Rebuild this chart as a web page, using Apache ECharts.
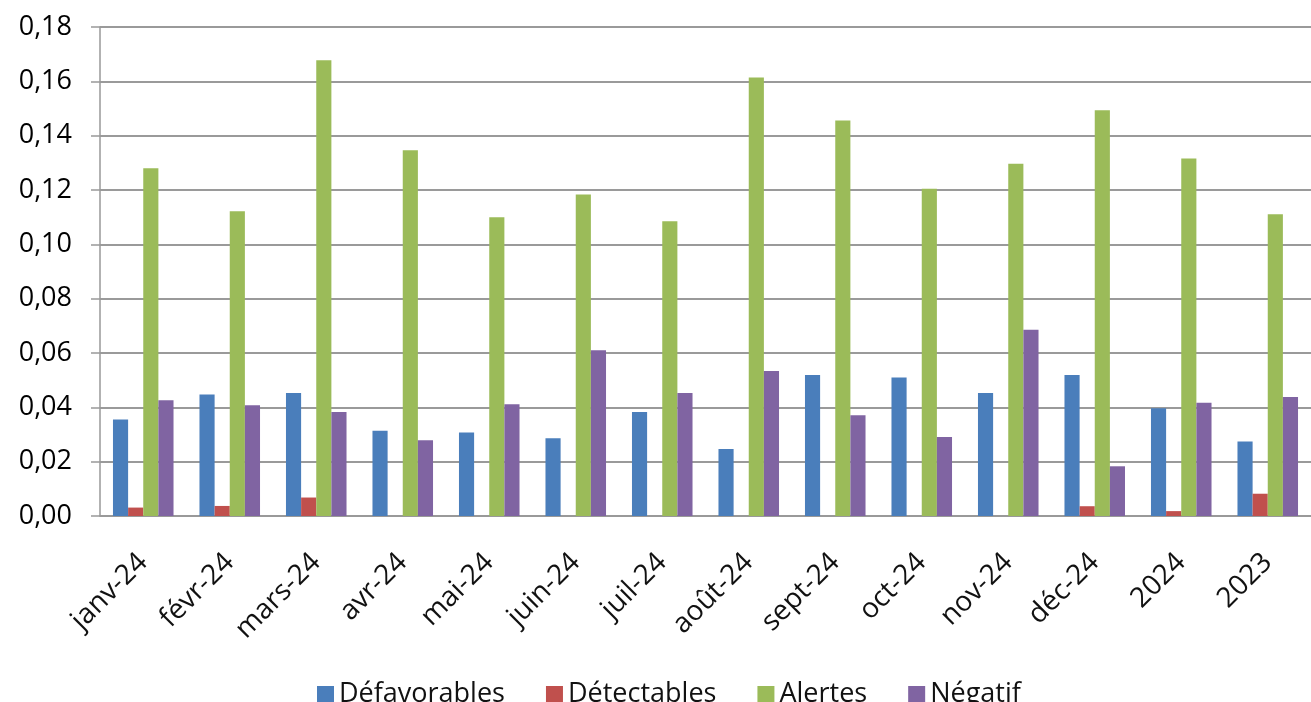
<!DOCTYPE html>
<html>
<head>
<meta charset="utf-8">
<script src="https://cdn.jsdelivr.net/npm/echarts@6/dist/echarts.min.js"></script>
<style>
  html, body { margin: 0; padding: 0; background: #fff; }
  #main { width: 1311px; height: 702px; }
</style>
</head>
<body>
<div id="main"></div>
<script>
// categories
var months = ['janv-24', 'févr-24', 'mars-24', 'avr-24', 'mai-24', 'juin-24', 'juil-24', 'août-24', 'sept-24', 'oct-24', 'nov-24', 'déc-24', '2024', '2023']

// series values
var defavorables = [0.0355, 0.0447, 0.0453, 0.0314, 0.0307, 0.0286, 0.0383, 0.0247, 0.0519, 0.0510, 0.0453, 0.0519, 0.0397, 0.0274]
var detectables = [0.0031, 0.0037, 0.0068, 0, 0, 0, 0, 0, 0, 0, 0, 0.0036, 0.0018, 0.0082]
var alertes = [0.128, 0.1122, 0.1678, 0.1346, 0.110, 0.1183, 0.1085, 0.1614, 0.1456, 0.1205, 0.1297, 0.1494, 0.1316, 0.1111]
var negatif = [0.0426, 0.0408, 0.0383, 0.0279, 0.0411, 0.061, 0.0453, 0.0534, 0.0371, 0.0291, 0.0686, 0.0183, 0.0417, 0.0438]

var font = 'Open Sans'

function bar(name, data, color) {
    return {
        name: name,
        type: 'bar',
        data: data,
        barGap: '0%',
        barCategoryGap: '30%',
        itemStyle: { color: color },
        emphasis: { disabled: true }
    }
}

var chart = echarts.init(document.getElementById('main'))

var option = {
    backgroundColor: '#fff',
    animation: false,
    textStyle: { fontFamily: font },
    grid: { left: 100, top: 27, right: -11, bottom: 186, containLabel: false },
    legend: {
        top: 676,
        left: 312,
        itemWidth: 17,
        itemHeight: 17,
        itemGap: 41,
        icon: 'rect',
        textStyle: { fontSize: 27, color: '#111', fontFamily: font },
        data: ['Défavorables', 'Détectables', 'Alertes', 'Négatif']
    },
    xAxis: {
        type: 'category',
        data: months,
        axisLine: { lineStyle: { color: '#999', width: 1.5 } },
        axisTick: { length: 9, lineStyle: { color: '#999', width: 1.5 } },
        axisLabel: { rotate: 45, fontSize: 28, color: '#111', margin: 42, interval: 0 }
    },
    yAxis: {
        type: 'value',
        min: 0,
        max: 0.18,
        interval: 0.02,
        axisLine: { show: true, lineStyle: { color: '#999', width: 1.5 } },
        axisTick: { show: true, length: 9, lineStyle: { color: '#999', width: 1.5 } },
        splitLine: { lineStyle: { color: '#9a9a9a', width: 2 } },
        axisLabel: {
            fontSize: 27,
            color: '#000',
            margin: 28,
            formatter: function (v) { return v.toFixed(2).replace('.', ',') }
        }
    },
    series: [
        bar('Défavorables', defavorables, '#4a7ebb'),
        bar('Détectables', detectables, '#c0504d'),
        bar('Alertes', alertes, '#9bbb59'),
        bar('Négatif', negatif, '#8064a2')
    ]
}

chart.setOption(option)
</script>
</body>
</html>
